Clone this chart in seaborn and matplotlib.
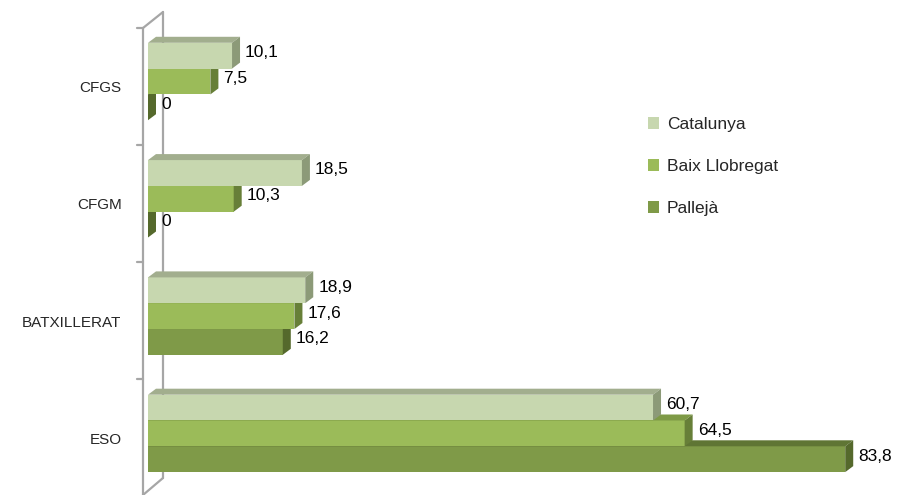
import matplotlib
matplotlib.use("Agg")
import matplotlib.pyplot as plt
import matplotlib.transforms as mtransforms
from matplotlib.patches import Polygon, Patch
from matplotlib.lines import Line2D
import seaborn as sns
import pandas as pd

categories = ["CFGS", "CFGM", "BATXILLERAT", "ESO"]
series = ["Catalunya", "Baix Llobregat", "Pallejà"]
catalunya = [10.1, 18.5, 18.9, 60.7]
baix_llobregat = [7.5, 10.3, 17.6, 64.5]
palleja = [0.0, 0.0, 16.2, 83.8]

front_colors = ["#C7D7AF", "#9BBB59", "#7F9A48"]
top_colors = ["#A2AE8E", "#7E9A46", "#5F7534"]
side_colors = ["#8C9A78", "#677F38", "#55692C"]

sns.set_theme(style="white")
plt.rcParams["font.family"] = ["Liberation Sans", "DejaVu Sans"]

rows = []
for s, vals in zip(series, [catalunya, baix_llobregat, palleja]):
    for c, v in zip(categories, vals):
        rows.append({"cat": c, "zona": s, "val": v})
df = pd.DataFrame(rows)

W, H = 901, 495
fig = plt.figure(figsize=(W / 100, H / 100), dpi=100)
x0px = 148
pxu = 8.32
xmax = (W - x0px) / pxu
top_px = 81.5 - 117.3 / 2
bot_px = top_px + 117.3 * 4
ax = fig.add_axes([x0px / W, 1 - bot_px / H, (W - x0px) / W, (bot_px - top_px) / H])
ax.patch.set_visible(False)

sns.barplot(data=df, y="cat", x="val", hue="zona", order=categories,
            hue_order=series, palette=front_colors, orient="h",
            width=0.66, gap=0, legend=False, ax=ax, linewidth=0,
            saturation=1)
ax.set_xlim(0, xmax)
ax.set_ylim(3.5, -0.5)
for sp in ax.spines.values():
    sp.set_visible(False)
ax.set_xticks([])
ax.set_xlabel("")
ax.set_ylabel("")
ax.tick_params(axis="y", length=0, pad=19, labelsize=11)
ax.set_yticks(range(len(categories)))
ax.set_yticklabels(categories)
for lab in ax.get_yticklabels():
    lab.set_transform(lab.get_transform() +
                      mtransforms.ScaledTranslation(0, -5 / 100, fig.dpi_scale_trans))

fig.canvas.draw()
dx, dy = 8, 6
ident = mtransforms.IdentityTransform()
for hi, cont in enumerate(ax.containers):
    z = 10 - hi * 2
    for bar, val in zip(cont, [catalunya, baix_llobregat, palleja][hi]):
        bar.set_zorder(z)
        x, y, w, h = bar.get_x(), bar.get_y(), bar.get_width(), bar.get_height()
        (ax0, ay0), (ax1, ay1) = ax.transData.transform([(x, y), (x + w, y + h)])
        left, right = min(ax0, ax1), max(ax0, ax1)
        low, high = min(ay0, ay1), max(ay0, ay1)
        topface = Polygon([(left, high), (right, high), (right + dx, high + dy),
                           (left + dx, high + dy)], closed=True,
                          facecolor=top_colors[hi], edgecolor="none",
                          transform=ident, zorder=z)
        sideface = Polygon([(right, low), (right, high), (right + dx, high + dy),
                            (right + dx, low + dy)], closed=True,
                           facecolor=side_colors[hi], edgecolor="none",
                           transform=ident, zorder=z)
        ax.add_patch(topface)
        ax.add_patch(sideface)
        txt = "0" if val == 0 else f"{val:.1f}".replace(".", ",")
        ax.text(right + dx + 5, (low + high) / 2 + 3, txt, transform=ident,
                ha="left", va="center", fontsize=12.5, color="black", zorder=20)

def fpx(x, y):
    return (x / W, 1 - y / H)

wall = "#A6A6A6"
segs = [[(143, 28), (143, 495)], [(163, 12), (163, 478)],
        [(143, 28), (163, 12)], [(143, 495), (163, 478)]]
for ty in [28, 145, 262, 379]:
    segs.append([(137, ty), (143, ty)])
for seg in segs:
    (xa, ya), (xb, yb) = fpx(*seg[0]), fpx(*seg[1])
    fig.add_artist(Line2D([xa, xb], [ya, yb], color=wall, lw=1.6,
                          transform=fig.transFigure, zorder=-1))

handles = [Patch(facecolor=c, edgecolor="none") for c in front_colors]
fig.legend(handles, series, loc="upper left",
           bbox_to_anchor=(648 / W, 1 - 117 / H), frameon=False,
           fontsize=12.5, handlelength=0.65, handleheight=0.65,
           handletextpad=0.45, labelspacing=1.55, borderpad=0, borderaxespad=0)

fig.savefig("out.png", dpi=100)
